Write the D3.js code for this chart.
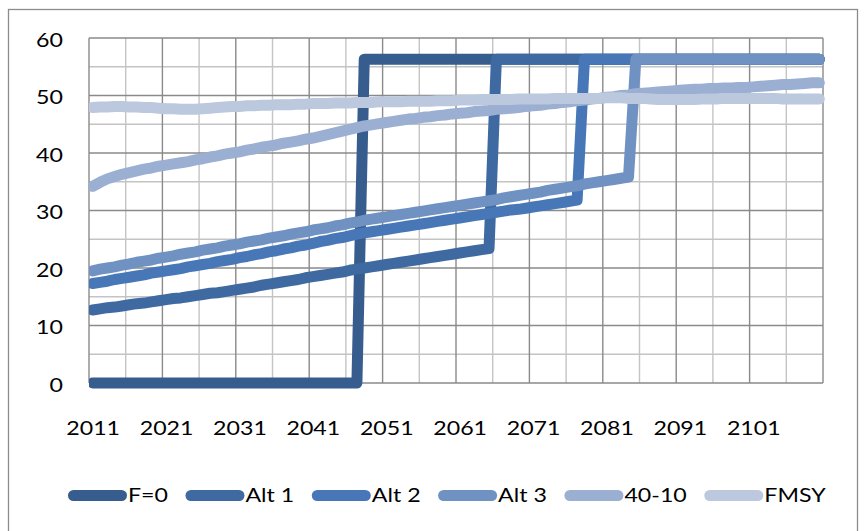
<!DOCTYPE html>
<html>
<head>
<meta charset="utf-8">
<script src="https://cdn.jsdelivr.net/npm/d3@7"></script>
<style>
  body { margin: 0; background: #fff; }
  svg { display: block; }
  text { font-family: Lato, "Open Sans", sans-serif; fill: #000; }
</style>
</head>
<body>
<svg id="chart" width="865" height="531"></svg>
<script>
// Projection years, one category per year
const years = d3.range(2011, 2111);

const xTickLabels = ["2011", "2021", "2031", "2041", "2051", "2061", "2071", "2081", "2091", "2101"];
const yTickLabels = [0, 10, 20, 30, 40, 50, 60];

const seriesNames = ["F=0", "Alt 1", "Alt 2", "Alt 3", "40-10", "FMSY"];
const seriesColors = ["#365d8d", "#3e69a1", "#4777b6", "#6f92c3", "#9aafd1", "#bcc8de"];

const f0 = [
  0, 0, 0, 0, 0, 0, 0, 0, 0, 0,
  0, 0, 0, 0, 0, 0, 0, 0, 0, 0,
  0, 0, 0, 0, 0, 0, 0, 0, 0, 0,
  0, 0, 0, 0, 0, 0, 0, 56.3, 56.3, 56.3,
  56.3, 56.3, 56.3, 56.3, 56.3, 56.3, 56.3, 56.3, 56.3, 56.3,
  56.3, 56.3, 56.3, 56.3, 56.3, 56.3, 56.3, 56.3, 56.3, 56.3,
  56.3, 56.3, 56.3, 56.3, 56.3, 56.3, 56.3, 56.3, 56.3, 56.3,
  56.3, 56.3, 56.3, 56.3, 56.3, 56.3, 56.3, 56.3, 56.3, 56.3,
  56.3, 56.3, 56.3, 56.3, 56.3, 56.3, 56.3, 56.3, 56.3, 56.3,
  56.3, 56.3, 56.3, 56.3, 56.3, 56.3, 56.3, 56.3, 56.3, 56.3
];

const alt1 = [
  12.7, 12.9, 13.1, 13.2, 13.4, 13.6, 13.8, 13.9, 14.1, 14.3,
  14.5, 14.7, 14.8, 15.0, 15.2, 15.4, 15.6, 15.7, 15.9, 16.1,
  16.3, 16.5, 16.7, 17.0, 17.2, 17.4, 17.6, 17.8, 18.0, 18.3,
  18.5, 18.7, 18.9, 19.1, 19.3, 19.6, 19.8, 20.0, 20.2, 20.4,
  20.6, 20.8, 21.0, 21.2, 21.4, 21.6, 21.8, 22.0, 22.2, 22.4,
  22.6, 22.8, 23.0, 23.2, 23.4, 56.3, 56.3, 56.3, 56.3, 56.3,
  56.3, 56.3, 56.3, 56.3, 56.3, 56.3, 56.3, 56.3, 56.3, 56.3,
  56.3, 56.3, 56.3, 56.3, 56.3, 56.3, 56.3, 56.3, 56.3, 56.3,
  56.3, 56.3, 56.3, 56.3, 56.3, 56.3, 56.3, 56.3, 56.3, 56.3,
  56.3, 56.3, 56.3, 56.3, 56.3, 56.3, 56.3, 56.3, 56.3, 56.3
];

const alt2 = [
  17.3, 17.5, 17.7, 18.0, 18.2, 18.4, 18.6, 18.8, 19.1, 19.3,
  19.5, 19.7, 19.9, 20.2, 20.4, 20.6, 20.8, 21.1, 21.3, 21.5,
  21.8, 22.0, 22.3, 22.5, 22.8, 23.0, 23.3, 23.5, 23.8, 24.0,
  24.3, 24.6, 24.8, 25.1, 25.3, 25.6, 25.9, 26.1, 26.3, 26.5,
  26.7, 26.9, 27.1, 27.3, 27.5, 27.7, 27.9, 28.1, 28.3, 28.5,
  28.7, 28.9, 29.1, 29.3, 29.5, 29.7, 29.9, 30.1, 30.2, 30.4,
  30.6, 30.8, 31.0, 31.2, 31.4, 31.6, 31.8, 56.3, 56.3, 56.3,
  56.3, 56.3, 56.3, 56.3, 56.3, 56.3, 56.3, 56.3, 56.3, 56.3,
  56.3, 56.3, 56.3, 56.3, 56.3, 56.3, 56.3, 56.3, 56.3, 56.3,
  56.3, 56.3, 56.3, 56.3, 56.3, 56.3, 56.3, 56.3, 56.3, 56.3
];

const alt3 = [
  19.5, 19.8, 20.0, 20.2, 20.5, 20.7, 21.0, 21.2, 21.4, 21.7,
  21.9, 22.1, 22.4, 22.6, 22.8, 23.1, 23.3, 23.5, 23.8, 24.0,
  24.2, 24.5, 24.7, 24.9, 25.2, 25.4, 25.6, 25.9, 26.1, 26.3,
  26.6, 26.8, 27.0, 27.3, 27.5, 27.8, 28.0, 28.3, 28.5, 28.7,
  28.9, 29.1, 29.3, 29.5, 29.7, 29.9, 30.1, 30.3, 30.5, 30.7,
  30.9, 31.1, 31.3, 31.5, 31.7, 31.9, 32.2, 32.4, 32.6, 32.8,
  33.0, 33.2, 33.5, 33.7, 33.9, 34.1, 34.3, 34.6, 34.8, 35.0,
  35.2, 35.4, 35.6, 35.8, 56.3, 56.3, 56.3, 56.3, 56.3, 56.3,
  56.3, 56.3, 56.3, 56.3, 56.3, 56.3, 56.3, 56.3, 56.3, 56.3,
  56.3, 56.3, 56.3, 56.3, 56.3, 56.3, 56.3, 56.3, 56.3, 56.3
];

const rule4010 = [
  34.2, 34.9, 35.5, 35.9, 36.3, 36.6, 36.9, 37.2, 37.4, 37.7,
  37.9, 38.1, 38.3, 38.5, 38.8, 39.0, 39.3, 39.5, 39.8, 40.0,
  40.2, 40.5, 40.7, 41.0, 41.2, 41.4, 41.7, 41.9, 42.1, 42.4,
  42.6, 42.9, 43.2, 43.5, 43.8, 44.1, 44.4, 44.7, 44.9, 45.1,
  45.3, 45.5, 45.7, 45.9, 46.0, 46.2, 46.3, 46.5, 46.6, 46.8,
  46.9, 47.0, 47.2, 47.3, 47.4, 47.6, 47.7, 47.8, 47.9, 48.1,
  48.2, 48.3, 48.5, 48.6, 48.8, 48.9, 49.1, 49.2, 49.4, 49.5,
  49.7, 49.8, 50.0, 50.1, 50.3, 50.4, 50.5, 50.6, 50.7, 50.8,
  50.9, 51.0, 51.1, 51.1, 51.2, 51.2, 51.3, 51.3, 51.4, 51.4,
  51.5, 51.6, 51.7, 51.8, 51.9, 51.9, 52.0, 52.1, 52.2, 52.2
];

const fmsy = [
  47.9, 48.0, 48.0, 48.1, 48.1, 48.0, 48.0, 47.9, 47.9, 47.8,
  47.7, 47.7, 47.6, 47.6, 47.6, 47.7, 47.8, 47.9, 48.0, 48.1,
  48.1, 48.2, 48.2, 48.3, 48.3, 48.4, 48.4, 48.4, 48.5, 48.5,
  48.6, 48.6, 48.6, 48.7, 48.7, 48.7, 48.8, 48.8, 48.8, 48.9,
  48.9, 48.9, 48.9, 49.0, 49.0, 49.0, 49.0, 49.1, 49.1, 49.1,
  49.2, 49.2, 49.2, 49.3, 49.3, 49.3, 49.3, 49.3, 49.4, 49.4,
  49.4, 49.4, 49.4, 49.5, 49.5, 49.5, 49.5, 49.5, 49.5, 49.5,
  49.6, 49.6, 49.6, 49.5, 49.5, 49.5, 49.4, 49.3, 49.3, 49.3,
  49.3, 49.3, 49.3, 49.4, 49.4, 49.4, 49.5, 49.5, 49.5, 49.5,
  49.5, 49.5, 49.5, 49.5, 49.4, 49.4, 49.4, 49.4, 49.4, 49.4
];

const seriesValues = [f0, alt1, alt2, alt3, rule4010, fmsy];

// ---- layout ----
const svg = d3.select("#chart");
const plot = { left: 89, top: 38, right: 823, bottom: 383 };
const textScaleX = 1.22;          // slightly wide lettering
const fontSize = 19;
const lineWidth = 11;
const majorGrid = "#8a8a8a";
const minorGrid = "#c4c4c4";

const x = d3.scalePoint().domain(years).range([plot.left, plot.right]).padding(0.5);
const step = x.step();
const y = d3.scaleLinear().domain([0, 60]).range([plot.bottom, plot.top]);

// outer chart frame
svg.append("rect")
  .attr("x", 8.5).attr("y", 9.5)
  .attr("width", 849).attr("height", 600)
  .attr("fill", "none").attr("stroke", "#8c8c8c").attr("stroke-width", 1.3);

// ---- gridlines: every 5 units / 5 categories, darker every 10 ----
const grid = svg.append("g");
const hVals = d3.range(0, 61, 5);
const vIdx = d3.range(0, 21);
const boundaryX = k => k * 5 < years.length ? x(years[k * 5]) - step / 2 : plot.right;

function drawGrid(isMajor) {
  grid.selectAll(null)
    .data(hVals.filter(v => (v % 10 === 0) === isMajor))
    .join("line")
    .attr("x1", plot.left).attr("x2", plot.right)
    .attr("y1", d => y(d)).attr("y2", d => y(d))
    .attr("stroke", isMajor ? majorGrid : minorGrid)
    .attr("stroke-width", 1.4);
  grid.selectAll(null)
    .data(vIdx.filter(k => (k % 2 === 0) === isMajor))
    .join("line")
    .attr("x1", boundaryX).attr("x2", boundaryX)
    .attr("y1", plot.top).attr("y2", plot.bottom)
    .attr("stroke", isMajor ? majorGrid : minorGrid)
    .attr("stroke-width", 1.4);
}
drawGrid(false);
drawGrid(true);

// ---- axes ----
const yAxis = svg.append("g")
  .attr("transform", `translate(${plot.left},0)`)
  .call(d3.axisLeft(y).tickValues(yTickLabels).tickSize(0).tickPadding(0));
yAxis.select(".domain").remove();
yAxis.selectAll("text")
  .attr("font-size", fontSize)
  .attr("font-family", "Lato, 'Open Sans', sans-serif")
  .attr("fill", "#000")
  .attr("x", -26 / textScaleX)
  .attr("dy", "0.43em")
  .attr("transform", `scale(${textScaleX},1)`);

const xAxis = svg.append("g")
  .attr("transform", `translate(0,${plot.bottom})`)
  .call(d3.axisBottom(x).tickValues(xTickLabels.map(Number)).tickSize(0).tickFormat(d3.format("d")));
xAxis.select(".domain").remove();
xAxis.selectAll("text")
  .attr("font-size", fontSize)
  .attr("font-family", "Lato, 'Open Sans', sans-serif")
  .attr("fill", "#000")
  .attr("y", 52).attr("dy", 0)
  .attr("transform", `scale(${textScaleX},1)`);

// ---- series lines ----
svg.append("clipPath").attr("id", "plot-clip")
  .append("rect")
  .attr("x", plot.left).attr("y", 0)
  .attr("width", plot.right - plot.left + 10).attr("height", 531);

const line = d3.line()
  .x((d, i) => x(years[i]))
  .y(d => y(d));

svg.append("g").attr("clip-path", "url(#plot-clip)")
  .selectAll("path")
  .data(seriesValues)
  .join("path")
  .attr("d", line)
  .attr("fill", "none")
  .attr("stroke", (d, i) => seriesColors[i])
  .attr("stroke-width", lineWidth)
  .attr("stroke-linejoin", "round")
  .attr("stroke-linecap", "round");

// ---- legend ----
const legend = svg.append("g");
const legendY = 495.5;
const swatch = 59;
let lx = 68;
seriesNames.forEach((name, i) => {
  legend.append("line")
    .attr("x1", lx + lineWidth / 2).attr("x2", lx + swatch - lineWidth / 2)
    .attr("y1", legendY).attr("y2", legendY)
    .attr("stroke", seriesColors[i])
    .attr("stroke-width", lineWidth)
    .attr("stroke-linecap", "round");
  const tx = lx + swatch + 1;
  const t = legend.append("text")
    .attr("font-size", fontSize)
    .attr("x", tx / textScaleX)
    .attr("y", legendY + 6.9)
    .attr("transform", `scale(${textScaleX},1)`)
    .text(name);
  const w = t.node().getComputedTextLength() * textScaleX;
  lx = tx + w + 17.5;
});
</script>
</body>
</html>
